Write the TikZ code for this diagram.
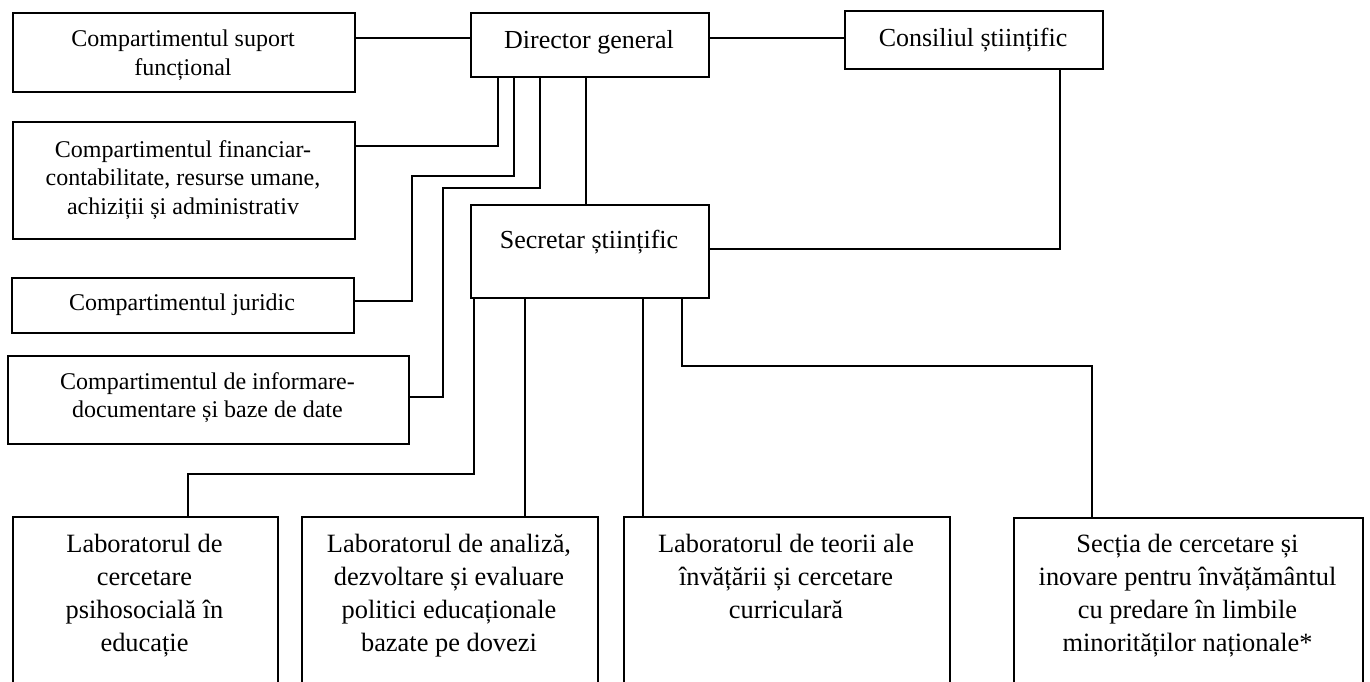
\documentclass[tikz,border=0pt]{standalone}
\usepackage{fontspec}
\setmainfont{Liberation Serif}
\begin{document}
\begin{tikzpicture}[x=1pt,y=-1pt,
  box/.style={draw, line width=2.2pt, rectangle, inner sep=0pt, anchor=north west},
  sm/.style={align=center, anchor=base, inner sep=0pt, font=\fontsize{24}{28.5}\selectfont},
  md/.style={align=center, anchor=base, inner sep=0pt, font=\fontsize{26}{30}\selectfont},
  lg/.style={align=center, anchor=base, inner sep=0pt, font=\fontsize{26.4}{33}\selectfont},
  conn/.style={line width=1.5pt}]
\useasboundingbox (0,0) rectangle (1370,681);
\clip (0,0) rectangle (1370,681);

% boxes
\node[box, minimum width=342pt, minimum height=79pt] (A) at (12,12) {};
\node[box, minimum width=342pt, minimum height=117pt] (B) at (12,121) {};
\node[box, minimum width=342pt, minimum height=55pt] (C) at (11,277) {};
\node[box, minimum width=401pt, minimum height=88pt] (D) at (7,355) {};
\node[box, minimum width=238pt, minimum height=64pt] (DG) at (470,12) {};
\node[box, minimum width=258pt, minimum height=58pt] (Cons) at (844,10) {};
\node[box, minimum width=238pt, minimum height=93pt] (Sec) at (470,204) {};
\node[box, minimum width=265pt, minimum height=200pt] (L1) at (12,516) {};
\node[box, minimum width=296pt, minimum height=200pt] (L2) at (301,516) {};
\node[box, minimum width=326pt, minimum height=200pt] (L3) at (623,516) {};
\node[box, minimum width=349pt, minimum height=200pt] (L4) at (1013,517) {};

% texts (base anchor = baseline of last line)
\node[sm] (At) at (183,75) {Compartimentul suport\\funcțional};
\node[sm] (Bt) at (183,214) {Compartimentul financiar-\\contabilitate, resurse umane,\\achiziții și administrativ};
\node[sm] (Ct) at (182,310) {Compartimentul juridic};
\node[sm] (Dt) at (207.5,417.5) {Compartimentul de informare-\\documentare și baze de date};
\node[md] (DGt) at (589,48) {Director general};
\node[md] (Const) at (973,46) {Consiliul științific};
\node[md] (Sect) at (589,248) {Secretar științific};
\node[lg] (L1t) at (144.5,651) {Laboratorul de\\cercetare\\psihosocială în\\educație};
\node[lg] (L2t) at (449,651) {Laboratorul de analiză,\\dezvoltare și evaluare\\politici educaționale\\bazate pe dovezi};
\node[lg] (L3t) at (786,618) {Laboratorul de teorii ale\\învățării și cercetare\\curriculară};
\node[lg] (L4t) at (1187.5,651) {Secția de cercetare și\\inovare pentru învățământul\\cu predare în limbile\\minorităților naționale*};

% connectors
\draw[conn] (A.east |- 0,38) -- (DG.west |- 0,38);
\draw[conn] (DG.east |- 0,38) -- (Cons.west |- 0,38);
\draw[conn] (498,0 |- DG.south) -- (498,146) -- (B.east |- 0,146);
\draw[conn] (514,0 |- DG.south) -- (514,176) -- (412,176) -- (412,301) -- (C.east |- 0,301);
\draw[conn] (540,0 |- DG.south) -- (540,188) -- (443,188) -- (443,397) -- (D.east |- 0,397);
\draw[conn] (586,0 |- DG.south) -- (586,0 |- Sec.north);
\draw[conn] (1060,0 |- Cons.south) -- (1060,249) -- (Sec.east |- 0,249);
\draw[conn] (474,0 |- Sec.south) -- (474,474) -- (188,474) -- (188,0 |- L1.north);
\draw[conn] (525,0 |- Sec.south) -- (525,0 |- L2.north);
\draw[conn] (643,0 |- Sec.south) -- (643,0 |- L3.north);
\draw[conn] (682,0 |- Sec.south) -- (682,366) -- (1092,366) -- (1092,0 |- L4.north);
\end{tikzpicture}
\end{document}
